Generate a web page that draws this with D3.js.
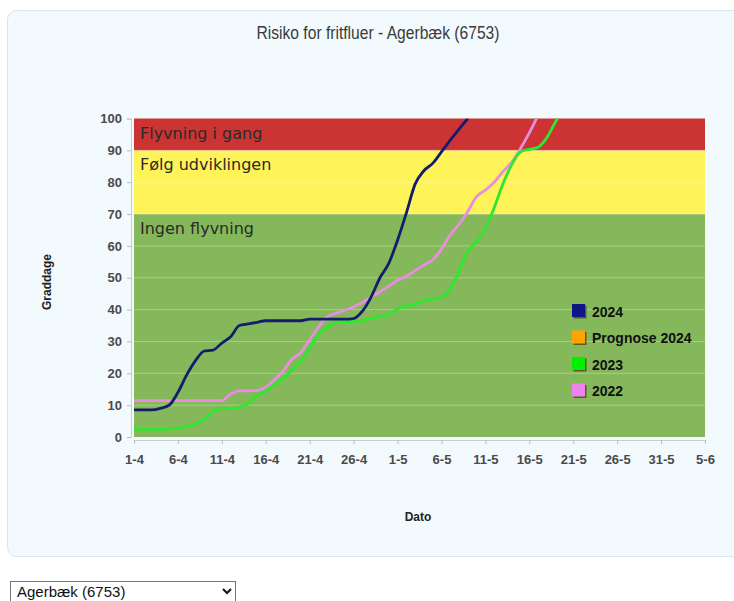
<!DOCTYPE html>
<html>
<head>
<meta charset="utf-8">
<script src="https://cdn.jsdelivr.net/npm/d3@7"></script>
<style>
  body { margin: 0; background: #fff; font-family: "Liberation Sans", Arial, sans-serif; }
  #container { position: absolute; left: 0; top: 0; }
  select { position: absolute; left: 10px; top: 581px; width: 226px; height: 21px;
           font-family: "Liberation Sans", Arial, sans-serif; font-size: 15px; padding: 0 2px;
           border: 1px solid #767676; background: #fff; color: #111; }
  .tick text { font-family: "Liberation Sans Narrow", "Liberation Sans", Arial, sans-serif; }
</style>
</head>
<body>
<div id="container"></div>
<select><option>Agerbæk (6753)</option></select>
<script>
// tick labels on the date axis (one every 5 days from 1 April)
const tickLabels = ["1-4", "6-4", "11-4", "16-4", "21-4", "26-4", "1-5", "6-5",
                    "11-5", "16-5", "21-5", "26-5", "31-5", "5-6"];
const yTicks = [0, 10, 20, 30, 40, 50, 60, 70, 80, 90, 100];

// risk bands
const bandLimits = [0, 70, 90, 100];
const bandLabels = ["Ingen flyvning", "Følg udviklingen", "Flyvning i gang"];

// accumulated degree days, one value per day from 1-4
const s2024 = [8.5, 8.5, 8.5, 9, 10, 14, 19.5, 24, 27, 27.3,
               29.5, 31.5, 35, 35.5, 36, 36.5, 36.5, 36.5, 36.5, 36.5,
               37, 37, 37, 37, 37, 37.2, 39.5, 44, 50, 54.5,
               61.8, 70.3, 79.4, 83.6, 85.9, 89.5, 93.2, 96.7, 100];
const s2023 = [2.5, 2.5, 2.5, 2.5, 2.5, 2.8, 3.3, 4, 5.6, 8,
               9, 9, 9.5, 10.5, 13, 14.5, 16.5, 18.5, 21, 23.8,
               27.8, 32.2, 34.5, 36, 36.2, 36.2, 36.5, 37.3, 37.8, 38.3,
               40.3, 41, 41.8, 42.8, 43.3, 43.7, 46.5, 52, 58.5, 61.5,
               65.5, 72, 79.5, 85.5, 89.5, 90.3, 91, 94, 99, 103];
const s2022 = [11.4, 11.4, 11.4, 11.4, 11.4, 11.4, 11.4, 11.4, 11.4, 11.4,
               11.4, 13.5, 14.5, 14.5, 14.6, 15.6, 18, 20.8, 24.5, 26.5,
               30.5, 34.5, 37.8, 38.8, 39.8, 40.8, 42.2, 43.9, 45.6, 47.4,
               49.2, 50.5, 52.2, 54, 55.6, 59, 63.5, 66.8, 70.8, 75.5,
               77.5, 80, 83.3, 86.3, 90.6, 95.5, 101];
const sPrognose = [];

const seriesNames = ["2024", "Prognose 2024", "2023", "2022"];
const seriesData = [s2024, sPrognose, s2023, s2022];

const lineColors = ["#141c6e", "#ffa500", "#2de82d", "#e88ddf"];
const legendColors = ["#0c1684", "#ffa500", "#00f000", "#ee82ee"];
const bandColors = ["#84b85b", "#fff35a", "#cc3333"];

const W = 734, H = 578;
const plot = {left: 134, right: 705, top: 118.5, bottom: 437};

const svg = d3.select("#container")
  .append("svg")
    .attr("width", W)
    .attr("height", H);

// panel
svg.append("rect")
  .attr("x", 7.5).attr("y", 10.5)
  .attr("width", 760).attr("height", 546)
  .attr("rx", 9)
  .attr("fill", "#f3fafd")
  .attr("stroke", "#dbe6ec");

svg.append("text")
  .attr("x", 378).attr("y", 39)
  .attr("text-anchor", "middle")
  .attr("font-size", 18)
  .attr("fill", "#3a3a3a")
  .attr("textLength", 243)
  .attr("lengthAdjust", "spacingAndGlyphs")
  .text("Risiko for fritfluer - Agerbæk (6753)");

const x = d3.scaleLinear()
  .domain([0, 65])
  .range([plot.left, plot.right]);

const y = d3.scaleLinear()
  .domain([0, 100])
  .range([plot.bottom, plot.top]);

// bands
bandLabels.forEach((label, i) => {
  svg.append("rect")
    .attr("x", x(0))
    .attr("y", y(bandLimits[i + 1]))
    .attr("width", x(65) - x(0))
    .attr("height", y(bandLimits[i]) - y(bandLimits[i + 1]))
    .attr("fill", bandColors[i]);
});

// grid
svg.append("g")
  .selectAll("line")
  .data(yTicks.filter(d => d > 0 && d < 100))
  .enter()
  .append("line")
    .attr("x1", x(0)).attr("x2", x(65))
    .attr("y1", d => y(d)).attr("y2", d => y(d))
    .attr("stroke", "#fff")
    .attr("stroke-opacity", 0.3);

bandLabels.forEach((label, i) => {
  svg.append("text")
    .attr("x", x(0) + 6)
    .attr("y", y(bandLimits[i + 1]) + 20)
    .attr("font-family", "DejaVu Sans, sans-serif")
    .attr("font-size", 16)
    .attr("fill", "#2a2a2a")
    .text(label);
});

// axes
const yAxis = svg.append("g")
  .attr("transform", `translate(${plot.left - 3},0)`)
  .call(d3.axisLeft(y).tickValues(yTicks).tickSize(4).tickPadding(5));

const xAxis = svg.append("g")
  .attr("transform", `translate(0,${plot.bottom + 3})`)
  .call(d3.axisBottom(x).tickValues(d3.range(0, 66, 5))
        .tickFormat((d, i) => tickLabels[i]).tickSize(4).tickPadding(11));

[yAxis, xAxis].forEach(a => {
  a.select(".domain").attr("stroke", "#c9ccce");
  a.selectAll(".tick line").attr("stroke", "#b8bcbf");
  a.selectAll(".tick text")
    .attr("font-size", 13)
    .attr("font-weight", "bold")
    .attr("fill", "#4a4a4a");
});

// lines
svg.append("clipPath").attr("id", "clip")
  .append("rect")
    .attr("x", plot.left).attr("y", plot.top)
    .attr("width", plot.right - plot.left).attr("height", plot.bottom - plot.top);

const line = d3.line()
  .x((d, i) => x(i))
  .y(d => y(d))
  .curve(d3.curveMonotoneX);

svg.append("g")
  .attr("clip-path", "url(#clip)")
  .selectAll("path")
  .data([3, 2, 0])
  .enter()
  .append("path")
    .attr("d", k => line(seriesData[k]))
    .attr("fill", "none")
    .attr("stroke", k => lineColors[k])
    .attr("stroke-width", 2.8)
    .attr("stroke-linejoin", "round");

// axis titles
svg.append("text")
  .attr("transform", "translate(51,282) rotate(-90)")
  .attr("text-anchor", "middle")
  .attr("font-size", 12)
  .attr("font-weight", "bold")
  .attr("fill", "#222")
  .text("Graddage");

svg.append("text")
  .attr("x", 418).attr("y", 521)
  .attr("text-anchor", "middle")
  .attr("font-size", 12)
  .attr("font-weight", "bold")
  .attr("fill", "#222")
  .text("Dato");

// legend
const legend = svg.selectAll(".legend")
  .data(seriesNames)
  .enter()
  .append("g")
  .attr("class", "legend")
  .attr("transform", (d, i) => `translate(572,${304 + i * 26.5})`);

legend.append("rect")
  .attr("x", 1.5).attr("y", 1.5)
  .attr("width", 13).attr("height", 13)
  .attr("fill", "#5a5a2a");

legend.append("rect")
  .attr("width", 13).attr("height", 13)
  .attr("fill", (d, i) => legendColors[i]);

legend.append("text")
  .attr("x", 20)
  .attr("y", 12.5)
  .attr("font-size", 14)
  .attr("font-weight", "bold")
  .attr("fill", "#111")
  .text(d => d);
</script>
</body>
</html>
